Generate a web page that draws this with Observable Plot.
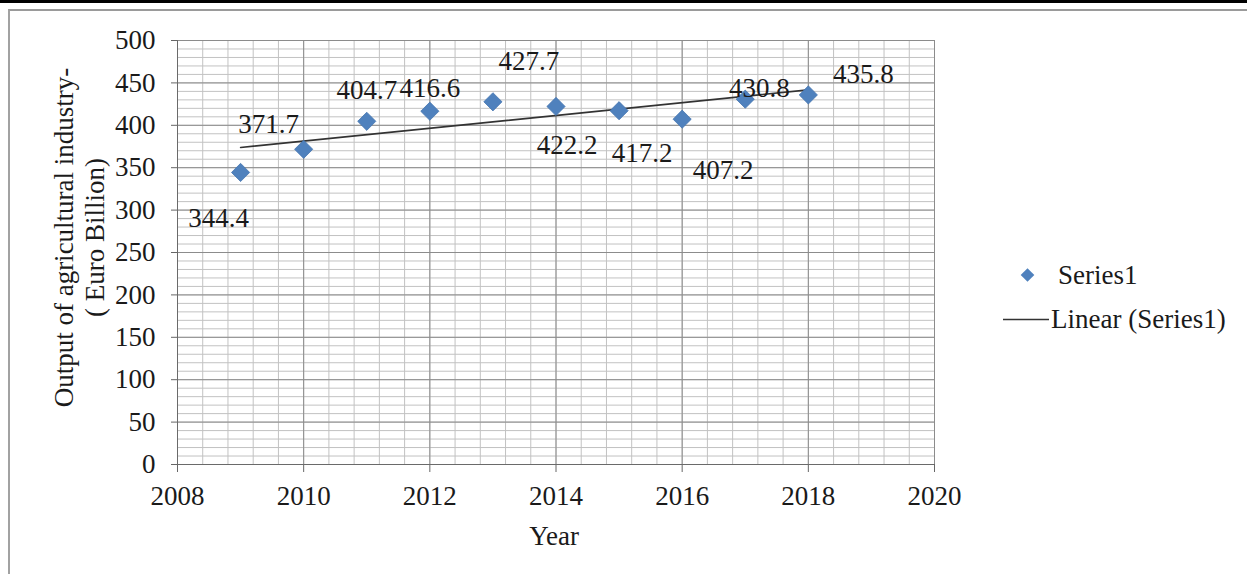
<!DOCTYPE html>
<html>
<head>
<meta charset="utf-8">
<script src="https://cdn.jsdelivr.net/npm/d3@7"></script>
<script src="https://cdn.jsdelivr.net/npm/@observablehq/plot@0.6"></script>
<style>
  body { margin: 0; background: #fff; }
  #chart { position: relative; width: 1247px; height: 574px; overflow: hidden;
           font-family: "Liberation Serif", "Times New Roman", serif; }
  #topbar { position: absolute; left: 0; top: 0; width: 1247px; height: 3px; background: #000; }
  #frame { position: absolute; left: 8px; top: 9px; width: 1300px; height: 700px;
           border-left: 2px solid #a2a2a2; border-top: 2px solid #9a9a9a; }
  #plot { position: absolute; left: 0; top: 0; }
  #legend { position: absolute; left: 0; top: 0; }
</style>
</head>
<body>
<div id="chart">
  <div id="topbar"></div>
  <div id="frame"></div>
  <div id="plot"></div>
  <svg id="legend" width="1247" height="574"></svg>
</div>
<script>
// Output of the agricultural industry, EUR billion, by year
const years = [2009, 2010, 2011, 2012, 2013, 2014, 2015, 2016, 2017, 2018];
const output = [344.4, 371.7, 404.7, 416.6, 427.7, 422.2, 417.2, 407.2, 430.8, 435.8];

// Axis ticks and grid divisions
const xTicks = [2008, 2010, 2012, 2014, 2016, 2018, 2020];
const yTicks = [0, 50, 100, 150, 200, 250, 300, 350, 400, 450, 500];
const xMinor = d3.range(0, 31).map(i => +(2008 + i * 0.4).toFixed(1));
const yMinor = d3.range(0, 51).map(i => i * 10);

const seriesName = "Series1";
const trendName = "Linear (Series1)";
const yTitle = "Output of agricultural industry-\n( Euro Billion)";
const xTitle = "Year";

const data = years.map((year, i) => ({year, value: output[i]}));

// pixel offsets of each value label from its point
const labelOffsets = [
  [-22, 46], [-35, -25], [0, -31], [0, -23], [36, -40],
  [11, 39], [23, 43], [41, 51], [14, -11], [55, -21]
];

const font = "Liberation Serif, Times New Roman, serif";
const ink = "#1a1a1a";
const blue = "#4F81BD";

const labelMarks = data.map((d, i) => Plot.text([d], {
  x: "year", y: "value", text: d => d.value.toFixed(1),
  dx: labelOffsets[i][0], dy: labelOffsets[i][1],
  fontSize: 27, fill: ink
}));

const chart = Plot.plot({
  width: 1247,
  height: 574,
  marginLeft: 177,
  marginRight: 313,
  marginTop: 40,
  marginBottom: 110,
  style: {fontFamily: font, background: "transparent", overflow: "visible"},
  x: {domain: [2008, 2020]},
  y: {domain: [0, 500]},
  marks: [
    Plot.ruleX(xMinor, {stroke: "#c2c2c2", strokeWidth: 1}),
    Plot.ruleY(yMinor, {stroke: "#c2c2c2", strokeWidth: 1}),
    Plot.ruleX(xTicks, {stroke: "#8c8c8c", strokeWidth: 1}),
    Plot.ruleY(yTicks, {stroke: "#8c8c8c", strokeWidth: 1}),
    Plot.axisY({ticks: yTicks, tickSize: 6, tickPadding: 16, fontSize: 27,
                fill: ink, stroke: "#666", label: null}),
    Plot.axisX({ticks: xTicks, tickSize: 8, tickPadding: 13, fontSize: 27,
                tickFormat: d => String(d), fill: ink, stroke: "#666", label: null}),
    Plot.ruleX([2008], {stroke: "#6a6a6a"}),
    Plot.ruleY([0], {stroke: "#6a6a6a"}),
    Plot.linearRegressionY(data, {x: "year", y: "value", ci: 0, stroke: "#333", strokeWidth: 1.6}),
    Plot.dot(data, {x: "year", y: "value", symbol: "diamond2", r: 8.2, fill: blue, stroke: "#4676b0", strokeWidth: 0.8}),
    ...labelMarks,
    Plot.text([yTitle], {frameAnchor: "left", textAnchor: "middle", lineAnchor: "middle",
                         rotate: -90, dx: -99, dy: -15,
                         fontSize: 27, lineHeight: 1.16, fill: ink}),
    Plot.text([xTitle], {frameAnchor: "bottom", lineAnchor: "middle", dx: -2, dy: 72,
                         fontSize: 27, fill: ink})
  ]
});
document.getElementById("plot").appendChild(chart);

// Legend: diamond marker for the series, line for its linear trend
const lg = d3.select("#legend");
const mx = 1027.5, my = 275, md = 6.8;
lg.append("path")
  .attr("d", `M${mx},${my - md}L${mx + md},${my}L${mx},${my + md}L${mx - md},${my}Z`)
  .attr("fill", blue);
lg.append("text").attr("x", 1058).attr("y", my).attr("dy", "0.32em")
  .attr("font-family", font).attr("font-size", 27).attr("fill", ink).text(seriesName);
lg.append("line").attr("x1", 1003).attr("x2", 1049).attr("y1", 319.5).attr("y2", 319.5)
  .attr("stroke", "#333").attr("stroke-width", 1.6);
lg.append("text").attr("x", 1051).attr("y", 319.5).attr("dy", "0.32em")
  .attr("font-family", font).attr("font-size", 27).attr("fill", ink).text(trendName);
</script>
</body>
</html>
